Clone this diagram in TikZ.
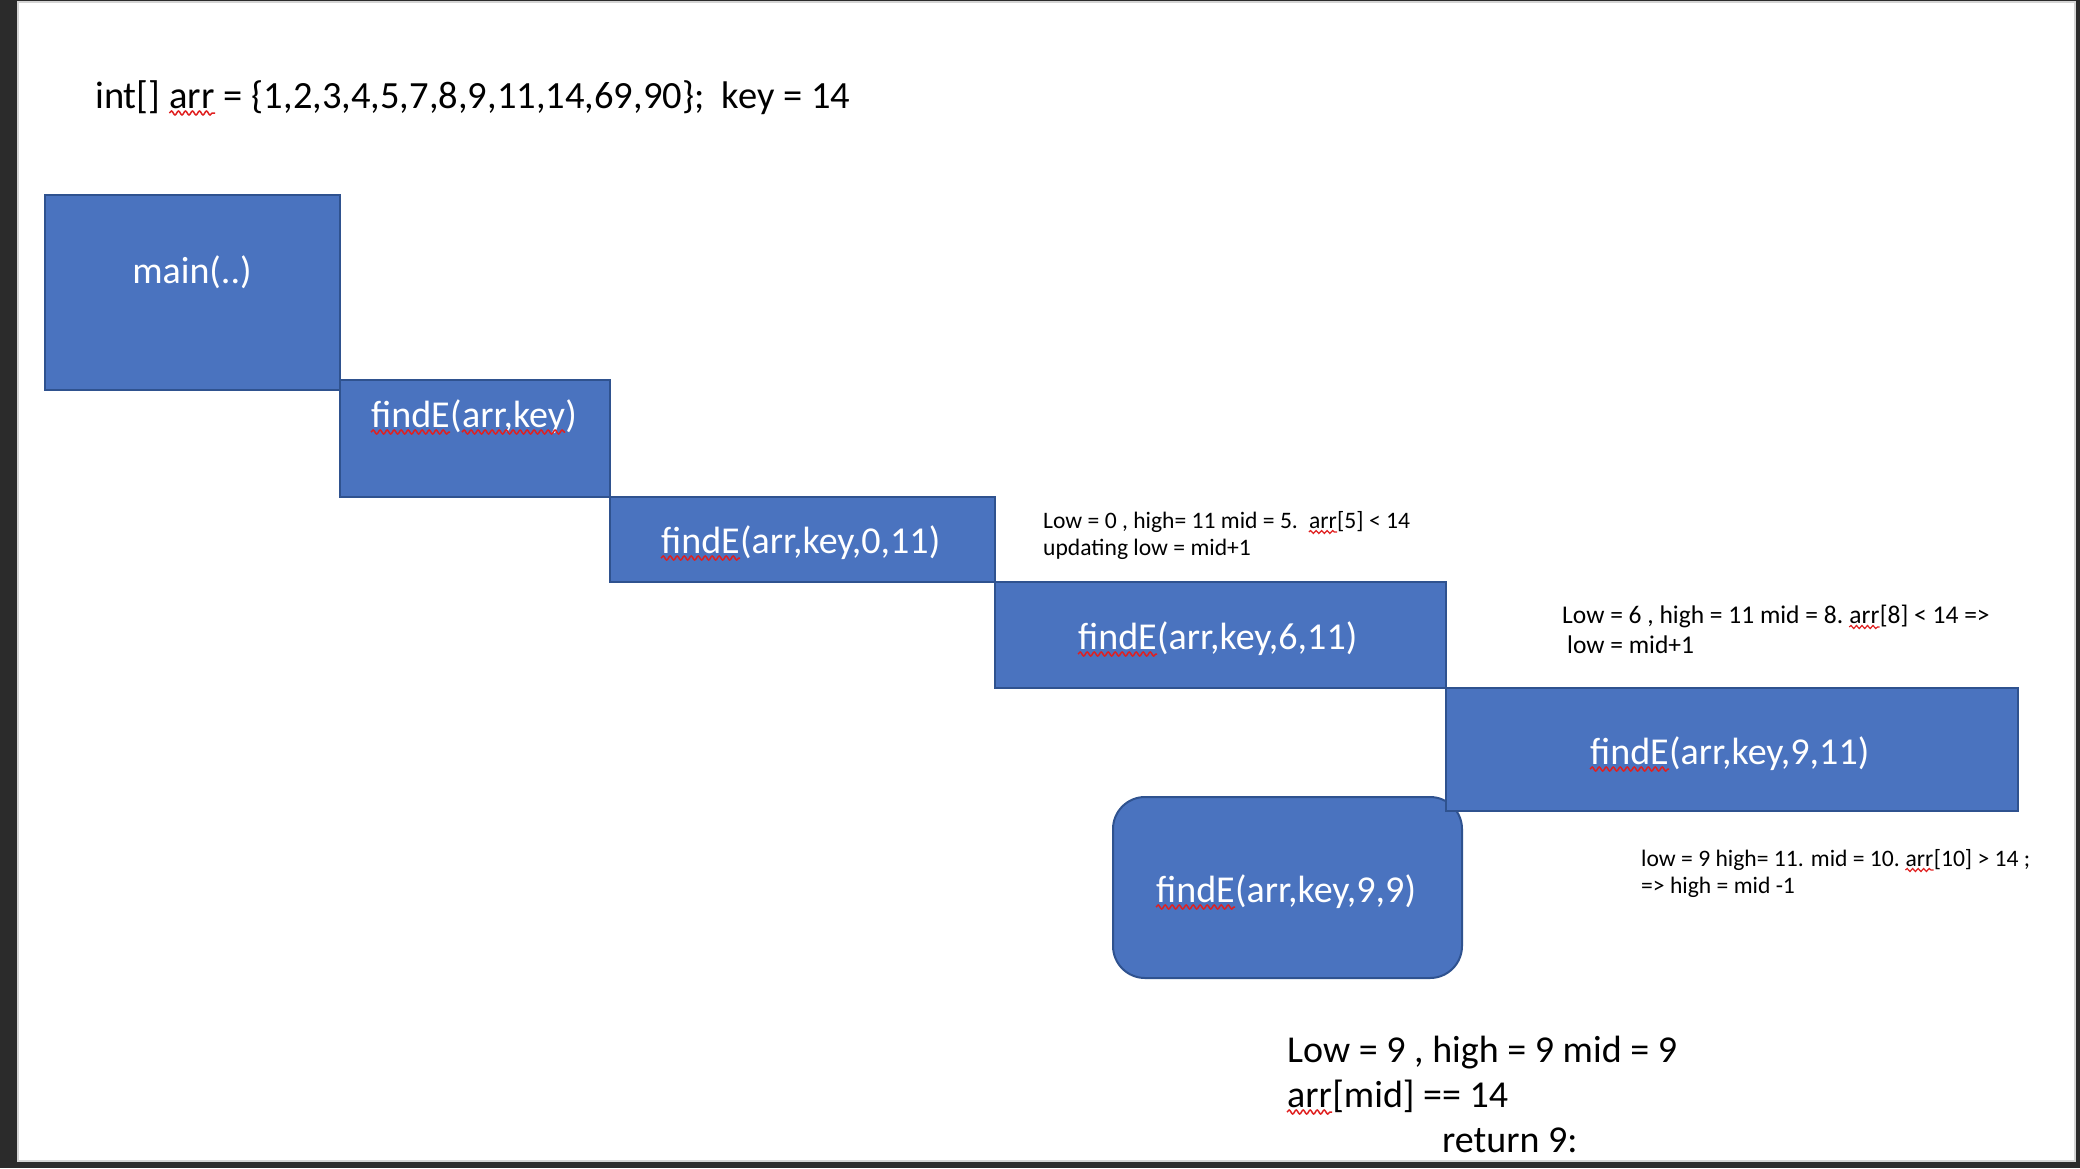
\documentclass[tikz,border=0pt]{standalone}
\usepackage{fontspec}
\setmainfont{Carlito}
\usetikzlibrary{decorations.pathmorphing}
\definecolor{boxblue}{HTML}{4A73BF}
\definecolor{boxedge}{HTML}{2F528F}
\definecolor{pagedark}{HTML}{2B2B2B}
\definecolor{pageedge}{HTML}{D4D4D4}
\definecolor{spellred}{HTML}{E02020}

\begin{document}
\begin{tikzpicture}[x=1pt,y=-1pt,
    callbox/.style={draw=boxedge, fill=boxblue, line width=2pt, inner sep=0pt},
    calltext/.style={anchor=base west, inner sep=0pt, text=white, font=\fontsize{38}{46}\selectfont},
    bigtext/.style={anchor=base west, inner sep=0pt, font=\fontsize{38}{46}\selectfont},
    notetext/.style={anchor=base west, inner sep=0pt, font=\fontsize{23.6}{28}\selectfont},
    spellwave/.style={spellred, line width=1.5pt, decorate, decoration={snake, amplitude=2pt, segment length=7pt}},
    smallwave/.style={spellwave, line width=1.2pt, decoration={amplitude=1.5pt, segment length=5.5pt}}]
    \useasboundingbox (0,0) rectangle (2080,1168);
    \fill [pagedark] (0,0) rectangle (2080,1168);
    \filldraw [fill=white, draw=pageedge, line width=2pt] (18,2) rectangle (2075,1161);

    \node [bigtext, font=\fontsize{38.5}{46}\selectfont] (title1) at (95,108) {int[]};
    \node [bigtext, font=\fontsize{38.5}{46}\selectfont] (title2) at ([xshift=8.7pt]title1.base east) {arr};
    \node [bigtext, font=\fontsize{38.5}{46}\selectfont] (title3) at (title2.base east) {\ = \{1,2,3,4,5,7,8,9,11,14,69,90\};\ \ key = 14};
    \draw [spellwave] ([yshift=-5pt]title2.base west) -- ([yshift=-5pt]title2.base east);

    % call boxes
    \node [callbox, rounded corners=32pt, minimum width=349pt, minimum height=181pt] (box99) at (1287.5,887.5) {};
    \node [callbox, minimum width=295pt, minimum height=195pt] (mainbox) at (192.5,292.5) {};
    \node [callbox, minimum width=270pt, minimum height=117pt] (keybox) at (475,438.5) {};
    \node [callbox, minimum width=385pt, minimum height=85pt] (box0) at (802.5,539.5) {};
    \node [callbox, minimum width=451pt, minimum height=106pt] (box6) at (1220.5,635) {};
    \node [callbox, minimum width=572pt, minimum height=123pt] (box9) at (1732,749.5) {};

    \node [calltext, anchor=base] (mainlbl) at (192,283) {main(..)};

    \node [calltext] (keylbl1) at (371,427) {findE};
    \node [calltext] (keylbl2) at (keylbl1.base east) {(};
    \node [calltext] (keylbl3) at (keylbl2.base east) {arr,key};
    \node [calltext] (keylbl4) at (keylbl3.base east) {)};
    \draw [spellwave] ([yshift=-5pt]keylbl1.base west) -- ([yshift=-5pt]keylbl1.base east);
    \draw [spellwave] ([yshift=-5pt]keylbl3.base west) -- ([yshift=-5pt]keylbl3.base east);

    \foreach \nm/\lx/\ly/\args in {a/661/553/{0,11}, b/1078/649/{6,11}, c/1590/764/{9,11}, d/1156/902/{9,9}} {
        \node [calltext] (lbl\nm) at (\lx,\ly) {findE};
        \node [calltext] (args\nm) at (lbl\nm.base east) {(arr,key,\args)};
        \draw [spellwave] ([yshift=-5pt]lbl\nm.base west) -- ([yshift=-5pt]lbl\nm.base east);
    }

    % notes
    \node [notetext] (note0a) at (1043,528) {Low = 0 , high= 11 mid = 5.};
    \node [notetext] (note0b) at ([xshift=10.7pt]note0a.base east) {arr};
    \node [notetext] (note0c) at (note0b.base east) {[5] < 14};
    \node [notetext] (note0d) at (1043,555) {updating low = mid+1};
    \draw [smallwave] ([yshift=-4pt]note0b.base west) -- ([yshift=-4pt]note0b.base east);

    \node [notetext, font=\fontsize{25.5}{30}\selectfont] (note6a) at (1562,623) {Low = 6 , high = 11 mid = 8.};
    \node [notetext, font=\fontsize{25.5}{30}\selectfont] (note6b) at ([xshift=5.8pt]note6a.base east) {arr};
    \node [notetext, font=\fontsize{25.5}{30}\selectfont] (note6c) at (note6b.base east) {[8] < 14 =>};
    \node [notetext, font=\fontsize{25.5}{30}\selectfont] (note6d) at (1567,653) {low = mid+1};
    \draw [smallwave] ([yshift=-4pt]note6b.base west) -- ([yshift=-4pt]note6b.base east);

    \node [notetext] (note9a) at (1641,866) {low = 9 high= 11. mid = 10.};
    \node [notetext] (note9b) at ([xshift=5.3pt]note9a.base east) {arr};
    \node [notetext] (note9c) at (note9b.base east) {[10] > 14 ;};
    \node [notetext] (note9d) at (1641,893) {=> high = mid -1};
    \draw [smallwave] ([yshift=-4pt]note9b.base west) -- ([yshift=-4pt]note9b.base east);

    % result
    \node [bigtext] (res1) at (1287,1062) {Low = 9 , high = 9 mid = 9};
    \node [bigtext] (res2) at (1287,1107) {arr};
    \node [bigtext] (res3) at (res2.base east) {[mid] == 14};
    \node [bigtext] (res4) at (1442,1152) {return 9:};
    \draw [spellwave] ([yshift=-5pt]res2.base west) -- ([yshift=-5pt]res2.base east);
\end{tikzpicture}
\end{document}
